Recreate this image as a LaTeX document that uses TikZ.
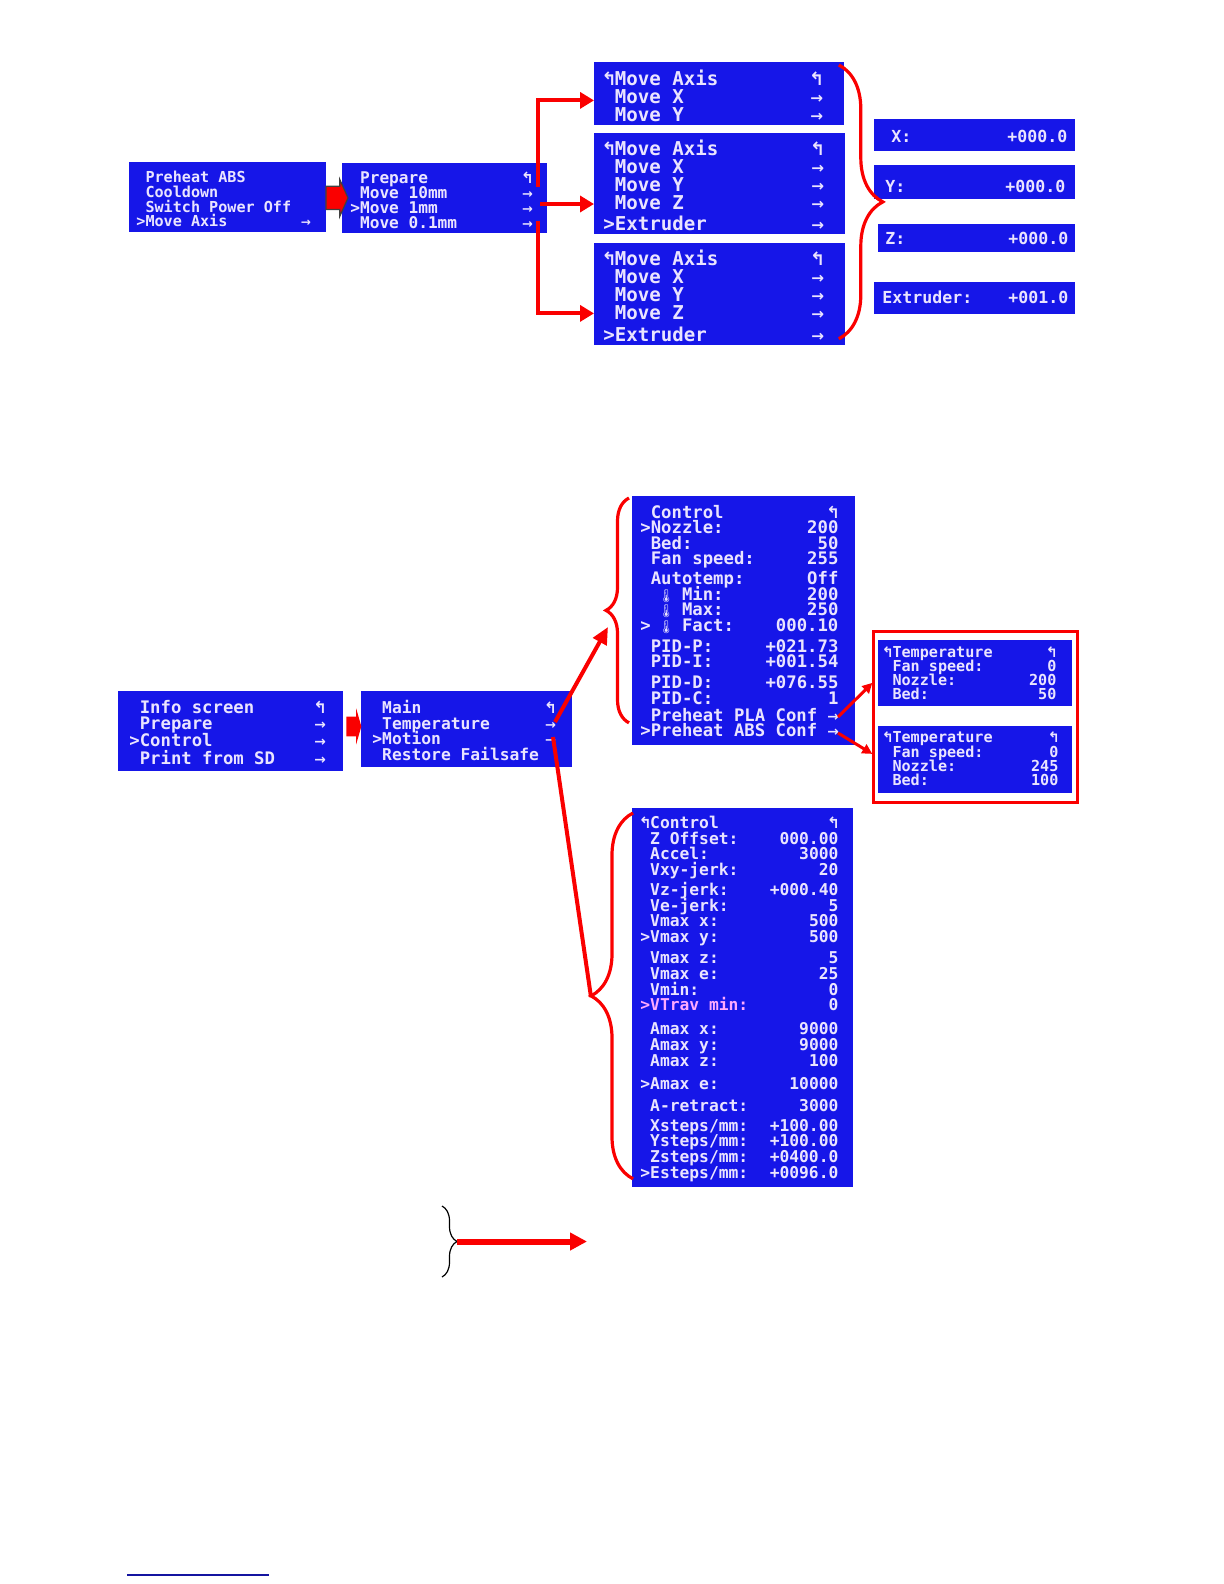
\documentclass[tikz,border=0pt]{standalone}
\usepackage{fontspec}
\usepackage{graphicx}
\usepackage{xcolor}
\usetikzlibrary{arrows.meta,calc,fit,shapes.arrows,decorations.pathreplacing}

\newfontfamily\lcdmono{DejaVu Sans Mono}
\newfontfamily\symb{DejaVu Sans}
\newfontfamily\emoji{Noto Emoji}

\definecolor{lcdblue}{RGB}{22,22,232}
\definecolor{lcdtext}{RGB}{234,228,255}
\definecolor{lcdpink}{RGB}{255,170,255}
\definecolor{lcdred}{RGB}{250,0,0}
\definecolor{footblue}{RGB}{20,20,160}

\newdimen\pxu \pxu=0.5pt
\newdimen\lcdL \newdimen\lcdR
\newcommand\lcdsize[2]{\lcdmono\bfseries\fontsize{#1}{#2}\selectfont}
\newcommand\lr[2]{\hbox to\linewidth{\hskip\lcdL#1\hfil#2\hskip\lcdR}}
\newcommand\gap[1]{\vskip#1\pxu}
\newcommand\screen[6]{\begin{minipage}[t][#2\pxu][t]{#1\pxu}\lineskiplimit=-\maxdimen
  \lcdL=#4\pxu\lcdR=#5\pxu\vspace*{\dimexpr#3\pxu-\baselineskip\relax}\hbox{}#6\end{minipage}}
\newcommand\ra{\makebox[0.602em]{\symb\scalebox{0.8}{→}}}
\newcommand\up{\makebox[0.602em]{\symb\scalebox{0.95}{↰}}}
\newcommand\thermo{\makebox[0.602em]{\emoji\scalebox{0.75}{🌡}}}

\begin{document}
\begin{tikzpicture}[x=0.5pt,y=-0.5pt,
  lcd/.style={fill=lcdblue,text=lcdtext,inner sep=0pt,anchor=north west},
  push/.style={single arrow,fill=lcdred,inner xsep=0pt},
  arr/.style={draw=lcdred,line width=2pt,-{Triangle[length=7pt,width=8pt]}},
  tiparr/.style={draw=lcdred,line width=1.5pt,-{Triangle[length=5pt,width=5pt]}},
  curly/.style={draw=lcdred,line width=1.6pt,decorate,decoration={brace,amplitude=#1}},
  redframe/.style={draw=lcdred,line width=1.2pt,inner xsep=2.25pt,inner ysep=4.25pt}
]
\useasboundingbox (0,0) rectangle (1224,1584);

\node[lcd,font=\lcdsize{7.56}{7.33}] (b1) at (129,162) {\screen{197}{70}{20.5}{7}{16}{
  \lr{\ Preheat ABS}{}
  \lr{\ Cooldown}{}
  \lr{\ Switch Power Off}{}
  \lr{>Move Axis}{\ra}}};
\node[lcd,font=\lcdsize{8.06}{7.5}] (b2) at (342,163) {\screen{205}{70}{20}{8}{15}{
  \lr{\ Prepare}{\up}
  \lr{\ Move 10mm}{\ra}
  \lr{>Move 1mm}{\ra}
  \lr{\ Move 0.1mm}{\ra}}};
\node[push,draw=black!75,line width=0.6pt,inner ysep=5.5pt,minimum height=11pt,
  single arrow head extend=3.5pt,single arrow tip angle=132] (push1) at ($(b1.east)!0.5!(b2.west)$) {};

\node[lcd,font=\lcdsize{9.55}{9}] (mA) at (594,62) {\screen{250}{63}{23}{9}{22}{
  \lr{\up Move Axis}{\up}
  \lr{\ Move X}{\ra}
  \lr{\ Move Y}{\ra}}};
\node[lcd,font=\lcdsize{9.55}{9}] (mB) at (594,133) {\screen{251}{101}{22}{9}{22}{
  \lr{\up Move Axis}{\up}
  \lr{\ Move X}{\ra}
  \lr{\ Move Y}{\ra}
  \lr{\ Move Z}{\ra}\gap{3}
  \lr{>Extruder}{\ra}}};
\node[lcd,font=\lcdsize{9.55}{9}] (mC) at (594,243) {\screen{251}{102}{22}{9}{22}{
  \lr{\up Move Axis}{\up}
  \lr{\ Move X}{\ra}
  \lr{\ Move Y}{\ra}
  \lr{\ Move Z}{\ra}\gap{4}
  \lr{>Extruder}{\ra}}};

\node[lcd,font=\lcdsize{8.3}{7.5}] (cx) at (874,119) {\screen{201}{32}{23}{17}{8}{\lr{X:}{+000.0}}};
\node[lcd,font=\lcdsize{8.3}{7.5}] (cy) at (874,165) {\screen{201}{34}{27}{11}{10}{\lr{Y:}{+000.0}}};
\node[lcd,font=\lcdsize{8.3}{7.5}] (cz) at (878,224) {\screen{197}{28}{20}{7}{7}{\lr{Z:}{+000.0}}};
\node[lcd,font=\lcdsize{8.3}{7.5}] (ce) at (874,282) {\screen{201}{32}{21}{8}{7}{\lr{Extruder:}{+001.0}}};

\coordinate (m10) at (538,187);
\coordinate (m1) at (540,204);
\coordinate (m01) at (538,221);
\draw[arr] (m10) |- ($(mA.west)+(0,6.5)$);
\draw[arr] (m1) -- (m1 -| mB.west);
\draw[arr] (m01) |- ($(mC.west)+(0,19)$);
\draw[curly=22pt] ($(mA.north east)+(-6,3)$) -- ($(mC.south east)+(-7,-7)$);

\node[lcd,font=\lcdsize{8.64}{8.25}] (s1) at (118,691) {\screen{225}{80}{22}{11}{18}{
  \lr{\ Info screen}{\up}
  \lr{\ Prepare}{\ra}
  \lr{>Control}{\ra}\gap{1.5}
  \lr{\ Print from SD}{\ra}}};
\node[lcd,font=\lcdsize{8.14}{7.85}] (s2) at (361,691) {\screen{211}{76}{22}{11}{17}{
  \lr{\ Main}{\up}
  \lr{\ Temperature}{\ra}
  \lr{>Motion}{\ra}
  \lr{\ Restore Failsafe}{}}};
\node[push,inner ysep=4.75pt,minimum height=7.5pt,single arrow head extend=4pt,
  single arrow tip angle=148] (push2) at ($(s1.east)!0.5!(s2.west)+(0,-4)$) {};

\node[lcd,font=\lcdsize{8.64}{7.75}] (s3) at (632,496) {\screen{223}{249}{22}{8}{17}{
  \lr{\ Control}{\up}
  \lr{>Nozzle:}{200}
  \lr{\ Bed:}{50}
  \lr{\ Fan speed:}{255}\gap{4.5}
  \lr{\ Autotemp:}{Off}
  \lr{\ \ \thermo\ Min:}{200}
  \lr{\ \ \thermo\ Max:}{250}
  \lr{>\ \thermo\ Fact:}{000.10}\gap{5.5}
  \lr{\ PID-P:}{+021.73}
  \lr{\ PID-I:}{+001.54}\gap{5.5}
  \lr{\ PID-D:}{+076.55}
  \lr{\ PID-C:}{1}\gap{1.5}
  \lr{\ Preheat PLA Conf}{\ra}
  \lr{>Preheat ABS Conf}{\ra}}};

\node[lcd,font=\lcdsize{8.14}{7.85}] (s4) at (632,808) {\screen{221}{379}{20}{8}{15}{
  \lr{\up Control}{\up}
  \lr{\ Z Offset:}{000.00}
  \lr{\ Accel:}{3000}
  \lr{\ Vxy-jerk:}{20}\gap{4.3}
  \lr{\ Vz-jerk:}{+000.40}
  \lr{\ Ve-jerk:}{5}
  \lr{\ Vmax x:}{500}
  \lr{>Vmax y:}{500}\gap{5.3}
  \lr{\ Vmax z:}{5}
  \lr{\ Vmax e:}{25}
  \lr{\ Vmin:}{0}
  \lr{{\color{lcdpink}>VTrav min:}}{0}\gap{8.3}
  \lr{\ Amax x:}{9000}
  \lr{\ Amax y:}{9000}
  \lr{\ Amax z:}{100}\gap{7.3}
  \lr{>Amax e:}{10000}\gap{6.3}
  \lr{\ A-retract:}{3000}\gap{4.3}
  \lr{\ Xsteps/mm:}{+100.00}
  \lr{\ Ysteps/mm:}{+100.00}
  \lr{\ Zsteps/mm:}{+0400.0}
  \lr{>Esteps/mm:}{+0096.0}}};

\node[lcd,font=\lcdsize{7.56}{6.85}] (t1) at (878,640) {\screen{194}{66}{17.5}{5}{16}{
  \lr{\up Temperature}{\up}
  \lr{\ Fan speed:}{0}
  \lr{\ Nozzle:}{200}
  \lr{\ Bed:}{50}}};
\node[lcd,font=\lcdsize{7.56}{7.15}] (t2) at (878,726) {\screen{194}{67}{16.5}{5}{14}{
  \lr{\up Temperature}{\up}
  \lr{\ Fan speed:}{0}
  \lr{\ Nozzle:}{245}
  \lr{\ Bed:}{100}}};
\node[redframe,fit=(t1)(t2)] (frame) {};

\coordinate (temp) at (555,722);
\coordinate (tempaim) at (608,627);
\coordinate (motion) at (553,737);
\coordinate (motionaim) at (591,997);
\draw[arr,-{Triangle[length=8.5pt,width=7.5pt]}] (temp) -- (tempaim);
\draw[draw=lcdred,line width=2pt] (motion) -- (motionaim);
\draw[curly=11.5pt] ($(s3.south west)+(-3,-23)$) -- ($(s3.north west)+(-3,2)$);
\draw[curly=21pt] ($(s4.south west)+(1,-9)$) -- ($(s4.north west)+(1,5)$);

\coordinate (pla) at (838,717);
\coordinate (abs) at (838,733);
\draw[tiparr] (pla) -- ($(frame.west)+(0,-34)$);
\draw[tiparr] (abs) -- ($(frame.west)+(0,37)$);

\coordinate (bracetop) at (442,1206);
\coordinate (bracebot) at (442,1277);
\coordinate (bracetip) at (457,1241.5);
\coordinate (bracegoal) at (587,1241.5);
\draw[decorate,decoration={brace,amplitude=7.5pt},line width=0.6pt] (bracetop) -- (bracebot);
\draw[draw=lcdred,line width=3pt,-{Triangle[length=8.5pt,width=8.5pt]}] (bracetip) -- (bracegoal);

\draw[footblue,line width=0.7pt] (127,1575) -- (269,1575);
\end{tikzpicture}
\end{document}
